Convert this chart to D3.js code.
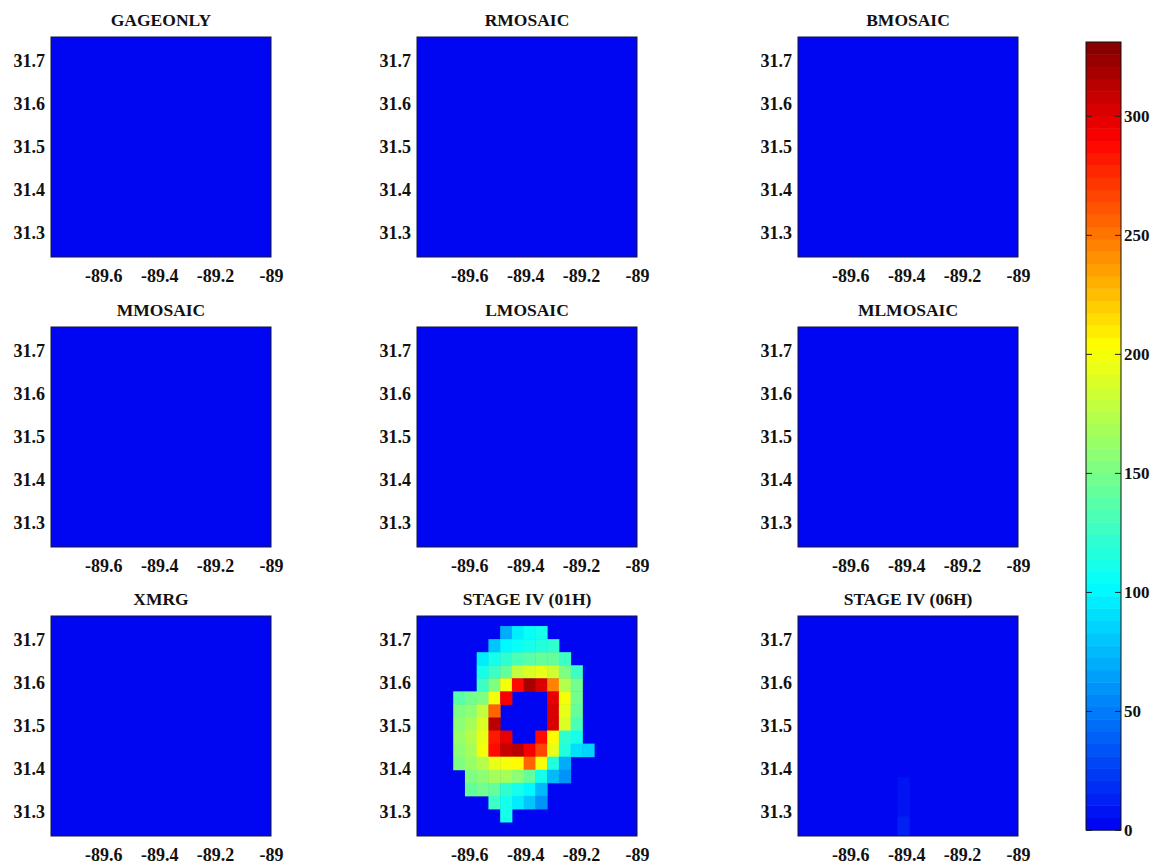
<!DOCTYPE html>
<html>
<head>
<meta charset="utf-8">
<script src="https://cdn.jsdelivr.net/npm/d3@7"></script>
<style>
  body { margin: 0; background: #fff; }
  svg text { font-family: "Liberation Serif", "Times New Roman", serif; font-weight: bold; fill: #111; }
</style>
</head>
<body>
<svg id="chart" width="1159" height="866"></svg>
<script>
// ---- data -------------------------------------------------------------
const panelTitles = ["GAGEONLY", "RMOSAIC", "BMOSAIC",
                     "MMOSAIC", "LMOSAIC", "MLMOSAIC",
                     "XMRG", "STAGE IV (01H)", "STAGE IV (06H)"];
const lonTicks = [-89.6, -89.4, -89.2, -89];
const latTicks = [31.3, 31.4, 31.5, 31.6, 31.7];
const lonExtent = [-89.787, -89.0];
const latExtent = [31.244, 31.756];

const colorTicks = [0, 50, 100, 150, 200, 250, 300];
const colorMax = 331;
const colorStops = [0, 103, 153, 203, 290, 331];
const colorRamp = ["#0000f2", "#00ffff", "#80ff80", "#ffff00", "#ff0000", "#800000"];

// precipitation grid (rows north -> south, columns west -> east)
const gridWest = -89.6575;
const gridNorth = 31.7326;
const cellLon = 0.042;
const cellLat = 0.0304;

const stage01 = [
  [  0,   0,   0,   0,  70,  95, 105, 110,   0,   0,   0,   0],
  [  0,   0,   0,  80, 100, 105, 110, 115, 120,   0,   0,   0],
  [  0,   0,  95, 110, 120, 130, 135, 140, 140, 125,   0,   0],
  [  0,   0, 110, 125, 140, 180, 190, 195, 185, 150, 125,   0],
  [  0,   0, 125, 150, 200, 285, 320, 300, 245, 175, 145,   0],
  [135, 145, 155, 200, 290,   0,   0,   0, 295, 200, 145,   0],
  [150, 160, 180, 255,   0,   0,   0,   0, 300, 195, 140,   0],
  [160, 170, 190, 315,   0,   0,   0,   0, 300, 190, 130,   0],
  [165, 175, 195, 280, 295,   0,   0, 285, 205, 120, 110,   0],
  [160, 170, 200, 285, 310, 315, 290, 265, 195, 115,  90,  85],
  [150, 165, 175, 195, 200, 205, 255, 200, 115,  70,   0,   0],
  [  0, 150, 160, 170, 170, 160, 140, 110,  75,  60,   0,   0],
  [  0, 140, 145, 140, 120, 110, 100,  75,   0,   0,   0,   0],
  [  0,   0,   0, 125, 110,  95,  80,  60,   0,   0,   0,   0],
  [  0,   0,   0,   0, 110,   0,   0,   0,   0,   0,   0,   0]
];

// light residual cells: [west lon, north lat, value]
const stage06 = [
  [-89.431, 31.381, 6],
  [-89.431, 31.351, 8],
  [-89.431, 31.321, 9],
  [-89.431, 31.290, 12],
  [-89.431, 31.260, 14]
];

// ---- helpers ----------------------------------------------------------
function gridToCells(matrix) {
  const out = [];
  matrix.forEach((row, r) => row.forEach((v, c) => {
    if (v > 0) out.push({ west: gridWest + c * cellLon, north: gridNorth - r * cellLat, v });
  }));
  return out;
}
const panelCells = [[], [], [], [], [], [], [],
  gridToCells(stage01),
  stage06.map(([west, north, v]) => ({ west, north, v }))];

const nLevels = 64;
const ramp = d3.scaleLinear().domain(colorStops).range(colorRamp).clamp(true);
const color = v => {
  const k = Math.min(nLevels - 1, Math.floor(v / colorMax * nLevels));
  return ramp((k + 0.5) / nLevels * colorMax);
};

// ---- layout -----------------------------------------------------------
const svg = d3.select("#chart");
const colLeft = [51, 417, 798];
const rowTop = [37, 327, 616];
const pw = 220, ph = 220;

const x = d3.scaleLinear().domain(lonExtent).range([0, pw]);
const y = d3.scaleLinear().domain(latExtent).range([ph, 0]);

panelTitles.forEach((title, i) => {
  const px = colLeft[i % 3], py = rowTop[Math.floor(i / 3)];
  const g = svg.append("g").attr("transform", `translate(${px},${py})`);

  g.append("clipPath").attr("id", `clip${i}`)
    .append("rect").attr("width", pw).attr("height", ph);

  g.append("rect").attr("width", pw).attr("height", ph).attr("fill", color(0));

  g.append("g").attr("clip-path", `url(#clip${i})`)
    .selectAll("rect").data(panelCells[i]).join("rect")
    .attr("x", d => x(d.west))
    .attr("y", d => y(d.north))
    .attr("width", d => x(d.west + cellLon) - x(d.west) + 0.5)
    .attr("height", d => y(d.north - cellLat) - y(d.north) + 0.5)
    .attr("fill", d => color(d.v));

  g.append("rect").attr("width", pw).attr("height", ph)
    .attr("fill", "none").attr("stroke", "#14143a").attr("stroke-width", 1);

  const xa = g.append("g").attr("transform", `translate(0,${ph})`)
    .call(d3.axisBottom(x).tickValues(lonTicks).tickSize(0).tickPadding(12).tickFormat(d => `${d}`));
  const ya = g.append("g")
    .call(d3.axisLeft(y).tickValues(latTicks).tickSize(0).tickPadding(6).tickFormat(d3.format(".1f")));
  [xa, ya].forEach(a => {
    a.select(".domain").remove();
    a.selectAll("text").attr("font-size", 18).attr("font-family", null);
  });

  g.append("text").attr("x", pw / 2).attr("y", -11)
    .attr("text-anchor", "middle").attr("font-size", 17.5).text(title);
});

// ---- colorbar ---------------------------------------------------------
const cbX = 1086, cbW = 35;
const cy = d3.scaleLinear().domain([0, colorMax]).range([830, 42]);
const cb = svg.append("g");
cb.selectAll("rect").data(d3.range(nLevels)).join("rect")
  .attr("x", cbX).attr("width", cbW)
  .attr("y", k => cy((k + 1) / nLevels * colorMax))
  .attr("height", k => cy(k / nLevels * colorMax) - cy((k + 1) / nLevels * colorMax) + 0.5)
  .attr("fill", k => ramp((k + 0.5) / nLevels * colorMax));
cb.append("rect").attr("x", cbX).attr("y", cy(colorMax))
  .attr("width", cbW).attr("height", cy(0) - cy(colorMax))
  .attr("fill", "none").attr("stroke", "#111");

const tickIn = 6;
const ticksL = cb.append("g").attr("transform", `translate(${cbX},0)`)
  .call(d3.axisRight(cy).tickValues(colorTicks).tickSize(tickIn).tickFormat(""));
const ticksR = cb.append("g").attr("transform", `translate(${cbX + cbW},0)`)
  .call(d3.axisLeft(cy).tickValues(colorTicks).tickSize(tickIn).tickFormat(""));
const labels = cb.append("g").attr("transform", `translate(${cbX + cbW},0)`)
  .call(d3.axisRight(cy).tickValues(colorTicks).tickSize(0).tickPadding(3));
[ticksL, ticksR, labels].forEach(a => a.select(".domain").remove());
[ticksL, ticksR].forEach(a => a.selectAll("line").attr("stroke", "#222"));
labels.selectAll("text").attr("font-size", 17).attr("font-family", null);
</script>
</body>
</html>
